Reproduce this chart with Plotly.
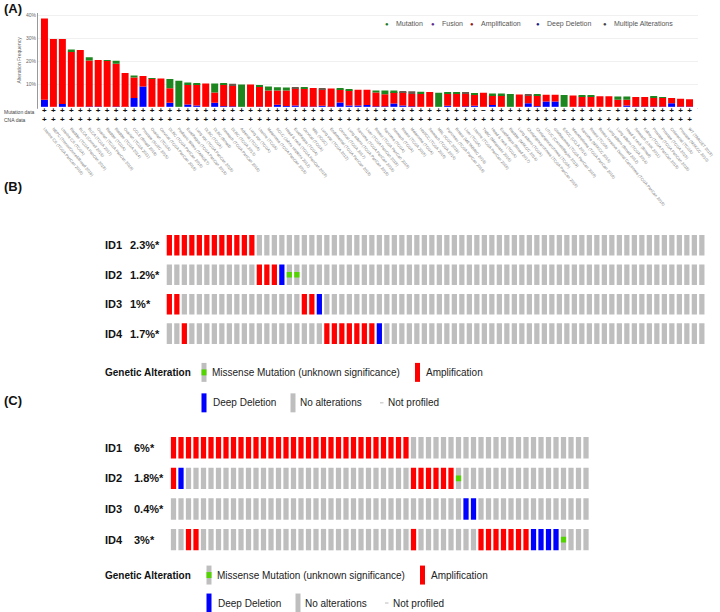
import numpy as np
import plotly.graph_objects as go

W, H = 720, 612          # reference pixel grid used for every position below
FIG_W = 737              # the page is captured ~2% wider than it is shown, so widen to compensate
FONT = "Arial, Liberation Sans, sans-serif"

# ---------------- panel A data (alteration frequency, %) ----------------
studies = [
    "Uterine CS (TCGA PanCan 2018)", "NEPC (Trento/Cornell/Broad 2016)", "Uterine CS (TCGA)",
    "Bladder (TCGA PanCan 2018)", "BLCA (Cornell 2016)", "BLCA (TCGA 2017)",
    "Ovarian (TCGA PanCan 2018)", "Bladder (TCGA)", "Bladder (TCGA 2014)",
    "Ovarian (TCGA 2011)", "CCLE (Broad 2019)", "Prostate (SU2C 2015)",
    "Ovarian (TCGA)", "Cervical (TCGA PanCan 2018)", "DLBC (TCGA PanCan 2018)",
    "Pediatric Wilms (TARGET)", "Esophagus (TCGA PanCan 2018)", "Lung sqc (TCGA PanCan 2018)",
    "DLBC (TCGA)", "DLBC (Broad)", "Stomach (TCGA PanCan 2018)",
    "DLBC (TCGA 2013)", "Adrenal (TCGA)", "Lung sqc (TCGA)",
    "Uterine (TCGA)", "Melanoma (TCGA PanCan 2018)", "SCLC (Johns Hopkins 2012)",
    "Head & neck (TCGA PanCan 2018)", "Esophagus (TCGA)", "Cervical (TCGA)",
    "MBL (ICGC)", "Lung sqc (TCGA 2012)", "Endometrial (TCGA PanCan 2018)",
    "Cervical (TCGA 2017)", "Lung adeno (TCGA PanCan 2018)", "Sarcoma (TCGA PanCan 2018)",
    "Liver (TCGA PanCan 2018)", "Breast (TCGA PanCan 2018)", "Sarcoma (TCGA)",
    "Stomach (TCGA)", "Breast (TCGA 2015)", "Melanoma (TCGA)",
    "HNSCC (TCGA 2015)", "Stomach (TCGA 2014)", "MBL (ICGC 2016)",
    "Pancreas (TCGA PanCan 2018)", "Breast (METABRIC 2016)", "Liver (TCGA)",
    "Uterine (TCGA PanCan 2018)", "TNBC (Metastatic 2016)", "Head & neck (TCGA)",
    "Esophagus (Broad 2017)", "Bladder (MSKCC 2014)", "Lung adeno (TCGA)",
    "Cholangiocarcinoma (TCGA PanCan 2018)", "Cholangiocarcinoma (TCGA)", "UTUC (Cornell/Baylor 2019)",
    "Glioblastoma (TCGA PanCan 2018)", "ESCC (UCLA 2014)", "Mesothelioma (TCGA PanCan 2018)",
    "Sarcoma (MSKCC 2014)", "Breast (TCGA)", "Breast Invasive Ductal Carcinoma (TCGA PanCan 2018)",
    "Lung adeno (Broad 2012)", "Lung adeno (TCGA 2014)", "Head & neck (Broad)",
    "Stomach (UHK 2011)", "Kidney (TCGA PanCan 2018)", "Prostate (TCGA PanCan 2018)",
    "Prostate (TCGA 2015)", "Colorectal (TCGA)", "Prostate (MSKCC 2010)",
    "WT (TARGET 2018)",
]

deep_deletion = [
    3.5, 0, 1.7, 0, 0, 0.5, 0.5, 0.3, 0.5, 0.4,
    4.2, 9.2, 0, 0, 2.2, 0, 1.4, 1.0, 0, 2.2,
    0.7, 0.6, 0, 0, 0.5, 0.3, 1.3, 0.8, 1.0, 0.5,
    0.5, 0.9, 0.5, 2.3, 1.0, 1.0, 1.2, 0.6, 0.6, 1.9,
    1.0, 0.6, 0, 0, 0, 0.9, 0, 0.6, 0.9, 0,
    1.2, 0.3, 0, 0, 2.0, 0.7, 2.7, 2.7, 0, 0,
    0.5, 0.3, 0, 0, 0.3, 1.0, 0.5, 0.5, 0.5, 0.5,
    2.0, 0.5, 0.5,
]
amplification = [
    35.1, 29.8, 28.1, 24.4, 25.0, 20.0, 20.2, 20.0, 18.5, 14.7,
    8.9, 4.6, 12.7, 12.7, 6.3, 0, 8.5, 9.2, 10.5, 4.4,
    9.5, 9.0, 0, 10.1, 8.7, 7.2, 6.2, 6.7, 7.5, 7.9,
    8.1, 7.1, 7.8, 5.6, 6.6, 6.8, 6.6, 6.0, 5.3, 4.9,
    5.8, 5.4, 6.0, 6.8, 0, 5.3, 6.3, 5.6, 4.9, 6.5,
    4.3, 5.2, 0, 5.8, 3.4, 4.7, 2.9, 2.9, 0, 5.3,
    4.4, 4.6, 5.0, 5.0, 3.2, 2.5, 4.2, 4.2, 4.0, 3.9,
    2.2, 3.4, 3.2,
]
multiple = [
    0, 0, 0, 0, 0, 0, 0, 0, 0, 0,
    0, 0, 0, 0, 0, 0, 0, 0, 0, 0,
    0, 0.8, 0, 0, 0, 0, 0, 0, 0.3, 0,
    0, 0.3, 0, 0, 0, 0, 0, 0, 0, 0,
    0.4, 1.2, 0, 0, 0, 0, 0, 0.3, 0, 0,
    0, 0, 0, 0, 0.2, 0, 0, 0, 0, 0,
    0, 0, 0, 0, 0, 0, 0, 0, 0, 0,
    0, 0, 0,
]
mutation = [
    0, 0, 0, 0.8, 0, 1.4, 0, 0.3, 1.4, 0,
    0.9, 0, 0.2, 0, 4.0, 11.7, 1.0, 0.3, 0, 3.9,
    0.2, 0, 10.1, 0, 0.4, 1.7, 1.4, 1.3, 0, 0.2,
    0, 0, 0, 0.3, 0.5, 0, 0, 0.9, 1.6, 0.7,
    0, 0, 1.0, 0, 6.5, 0.4, 0.3, 0, 0.5, 0,
    0.7, 0.7, 6.0, 0, 0, 0.2, 0, 0, 5.5, 0,
    0.3, 0.3, 0, 0, 1.4, 1.4, 0, 0, 0.2, 0.2,
    0, 0, 0,
]
mutation_profiled = "+++++++++++++++++++++++++++++++++++++++++++++++++-+++++++++++++-+++++++++"
cna_profiled = "+++++++++++++++-++++++-+++++++++++++++++++++-+++++++-+++++-++++++++++++++"

# ---------------- panels B / C data (oncoprint rows) ----------------
# A = amplification, D = deep deletion, M = missense (unknown significance), . = no alteration
gene_ids = ["ID1", "ID2", "ID3", "ID4"]
b_freq = ["2.3%*", "1.2%*", "1%*", "1.7%*"]
b_rows = [
    "AAAAAAAAAAAA",
    "............AAADMM",
    "AA................AAD",
    "..A..................AAAAAAAD",
]
b_ncols = 72
c_freq = ["6%*", "1.8%*", "0.4%*", "3%*"]
c_rows = [
    "AAAAAAAAAAAAAAAAAAAAAAAAAAAAAAAA",
    "AD..............................AAAAAAM",
    ".......................................DD",
    "..AA............................A........AAAAAAADDDDM",
]
c_ncols = 56

RED, BLUE, GREY, GREEN = "#ff0000", "#0000ff", "#bebebe", "#53d400"
MUT_GREEN, MULTI = "#1e861e", "#6b5a4a"


def px(x):
    return x / W


def py(y):
    return 1 - y / H


fig = go.Figure()

# ---- panel A stacked bars ----
n = len(studies)
idx = np.arange(n)
layers = [
    ("Deep Deletion", deep_deletion, BLUE),
    ("Amplification", amplification, RED),
    ("Multiple Alterations", multiple, MULTI),
    ("Mutation", mutation, MUT_GREEN),
]
base = np.zeros(n)
for name, vals, col in layers:
    vals = np.array(vals, dtype=float)
    fig.add_trace(go.Bar(x=idx, y=vals, base=base.copy(), width=0.78, name=name,
                         marker=dict(color=col, line=dict(width=0)),
                         xaxis="x", yaxis="y", hoverinfo="skip"))
    base += vals

for yv, marks in [(0.74, mutation_profiled), (0.28, cna_profiled)]:
    fig.add_trace(go.Scatter(x=idx, y=[yv] * n, mode="text", text=list(marks.replace("-", "\u2212")),
                             textfont=dict(size=8, color="#111", family=FONT, weight="bold"),
                             xaxis="x2", yaxis="y2", hoverinfo="skip"))


# ---- panels B / C oncoprints ----
def oncoprint(rows, ncols, xa, ya):
    cells = {"A": ([], []), "D": ([], []), "G": ([], []), "M": ([], [])}
    for r, row in enumerate(rows):
        row = row.ljust(ncols, ".")
        yc = len(rows) - 1 - r
        for c, code in enumerate(row):
            if code in ".M":
                cells["G"][0].append(c)
                cells["G"][1].append(yc)
            if code != ".":
                cells[code][0].append(c)
                cells[code][1].append(yc)
    for code, col, h in [("G", GREY, 0.70), ("A", RED, 0.70), ("D", BLUE, 0.70), ("M", GREEN, 0.19)]:
        xs, ys = cells[code]
        fig.add_trace(go.Bar(x=xs, y=[h] * len(xs), base=[v - h / 2 for v in ys], width=0.7,
                             marker=dict(color=col, line=dict(width=0)),
                             xaxis=xa, yaxis=ya, hoverinfo="skip"))


oncoprint(b_rows, b_ncols, "x3", "y3")
oncoprint(c_rows, c_ncols, "x4", "y4")

# ---- annotations ----
ann = []


def label(x, y, text, size, color="#111", bold=False, xanchor="left"):
    ann.append(dict(x=px(x), y=py(y), xref="paper", yref="paper", text=text, showarrow=False,
                    xanchor=xanchor, yanchor="middle",
                    font=dict(family=FONT, size=size, color=color, weight="bold" if bold else "normal")))


label(2, 8, "(A)", 13, bold=True)
label(2, 186, "(B)", 13, bold=True)
label(2, 400, "(C)", 13, bold=True)

label(2, 111, "Mutation data", 5, color="#444")
label(2, 119, "CNA data", 5, color="#444")

# panel A legend
for xd, xt, name, col in [
    (387, 395, "Mutation", "#1e7a1e"),
    (433, 441, "Fusion", "#5b2c8c"),
    (472, 480, "Amplification", "#8f1d1d"),
    (538, 546, "Deep Deletion", "#1c1c86"),
    (605, 613, "Multiple Alterations", "#444444"),
]:
    label(xd, 23, "\u25CF", 6, color=col, xanchor="center")
    label(xt - 1, 23, name, 7, color="#555")

# row labels
for rows_y, freq, xf in [([244.7, 274.2, 303.7, 333.2], b_freq, 128),
                         ([447.5, 478.2, 508.8, 539.5], c_freq, 132)]:
    for gid, f, yy in zip(gene_ids, freq, rows_y):
        label(103, yy, gid, 11, bold=True)
        label(xf, yy, f, 11, bold=True)

# oncoprint legends
shapes = []


def swatch(x0, x1, y0, y1, col):
    shapes.append(dict(type="rect", xref="paper", yref="paper", x0=px(x0), x1=px(x1),
                       y0=py(y1), y1=py(y0), fillcolor=col, line=dict(width=0), layer="above"))


for y1, y2, dx in [(372, 402.5, 0), (575, 603, 5)]:
    label(103, y1, "Genetic Alteration", 10, bold=True)
    swatch(201.5 + dx, 206.5 + dx, y1 - 9.5, y1 + 9.5, GREY)
    swatch(201.5 + dx, 206.5 + dx, y1 - 3, y1 + 3, GREEN)
    label(210 + dx, y1, "Missense Mutation (unknown significance)", 10, color="#222")
    swatch(415 + dx, 420 + dx, y1 - 9.5, y1 + 9.5, RED)
    label(424 + dx, y1, "Amplification", 10, color="#222")
    swatch(201.5 + dx, 206.5 + dx, y2 - 9.5, y2 + 9.5, BLUE)
    label(211 + dx, y2, "Deep Deletion", 10, color="#222")
    swatch(290.5 + dx, 295.5 + dx, y2 - 9.5, y2 + 9.5, GREY)
    label(298 + dx, y2, "No alterations", 10, color="#222")
    swatch(380 + dx, 383.5 + dx, y2 - 0.5, y2 + 0.5, "#bbbbbb")
    label(386 + dx, y2, "Not profiled", 10, color="#222")

# ---- layout ----
x_dom = [px(38), px(697.6)]
hidden = dict(visible=False, showgrid=False, zeroline=False)
fig.update_layout(
    width=FIG_W, height=H, autosize=False, margin=dict(l=0, r=0, t=0, b=0),
    paper_bgcolor="white", plot_bgcolor="white", showlegend=False,
    barmode="overlay", annotations=ann, shapes=shapes,
    xaxis=dict(domain=x_dom, range=[-0.72, 72.9], showticklabels=False, ticks="",
               showgrid=False, zeroline=False, showline=True, linecolor="#a9a9d6", linewidth=1,
               anchor="y"),
    yaxis=dict(domain=[py(107), py(12)], range=[0, 41], tickvals=[10, 20, 30, 40],
               ticktext=["10%", "20%", "30%", "40%"], tickfont=dict(size=5, color="#666", family=FONT),
               showgrid=True, gridcolor="#f0f0f0", zeroline=False, showline=True,
               linecolor="#999", linewidth=1, ticks="", anchor="x",
               title=dict(text="Alteration Frequency", font=dict(size=5, color="#666", family=FONT),
                          standoff=4)),
    xaxis2=dict(domain=x_dom, matches="x", anchor="y2", tickmode="array", tickvals=list(range(n)),
                ticktext=studies, tickangle=50, tickfont=dict(size=4, color="#777", family=FONT),
                showgrid=False, zeroline=False, showline=False, ticks=""),
    yaxis2=dict(domain=[py(124), py(106)], range=[0, 1], anchor="x2", **hidden),
    xaxis3=dict(domain=[px(165.6), px(705.6)], range=[-0.5, b_ncols - 0.5], anchor="y3", **hidden),
    yaxis3=dict(domain=[py(347.95), py(229.95)], range=[-0.5, 3.5], anchor="x3", **hidden),
    xaxis4=dict(domain=[px(169.75), px(589.75)], range=[-0.5, c_ncols - 0.5], anchor="y4", **hidden),
    yaxis4=dict(domain=[py(554.83), py(432.17)], range=[-0.5, 3.5], anchor="x4", **hidden),
)

post = "document.body.style.margin='0';document.body.style.overflow='hidden';"
fig.write_html("out.html", post_script=post, config={"displayModeBar": False, "responsive": False})
